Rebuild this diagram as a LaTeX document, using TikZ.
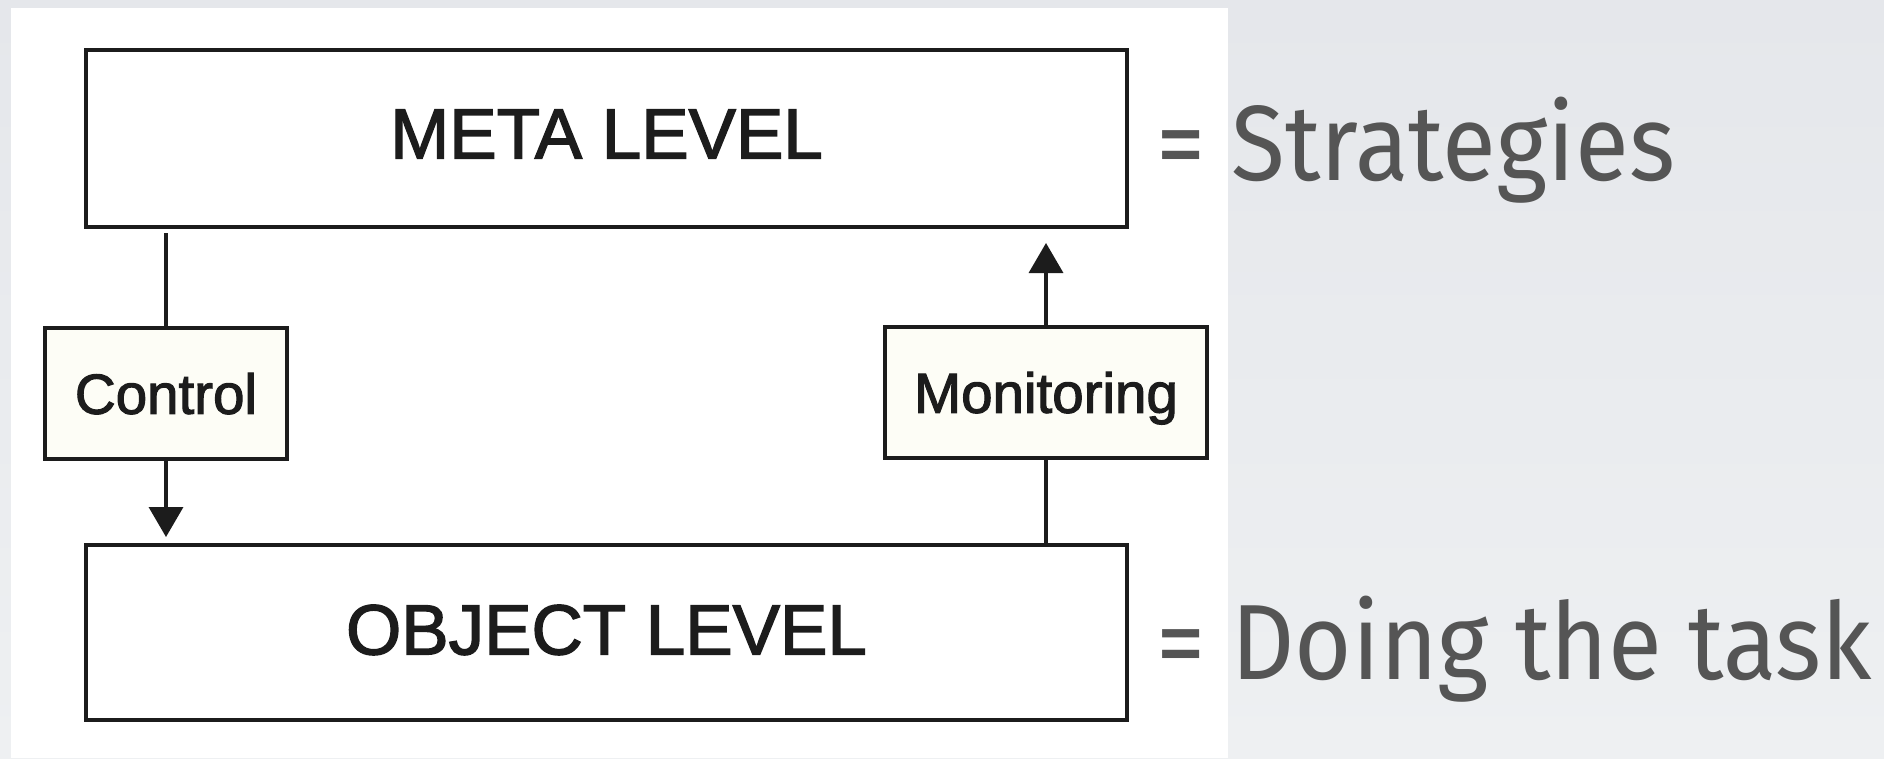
\documentclass[tikz,border=0pt]{standalone}
\usepackage{fontspec}
\setmainfont{Liberation Sans}[FakeBold=2]
\newfontfamily\slidefont{Fira Sans}[FakeStretch=0.92]
\usetikzlibrary{arrows.meta}
\definecolor{ink}{HTML}{1C1C1C}
\definecolor{boxfill}{HTML}{FDFDF6}
\definecolor{slidegray}{HTML}{555555}
\definecolor{bgtop}{HTML}{E5E7EB}
\definecolor{bgbot}{HTML}{EEF0F2}
\tikzset{
  levelbox/.style={draw=ink, line width=3.5pt, fill=white, inner sep=0pt,
    minimum width=1041pt, text height=50.8pt,
    font=\fontsize{71}{80}\selectfont, text=ink},
  tagbox/.style={draw=ink, line width=3.5pt, fill=boxfill, inner sep=0pt,
    minimum height=131pt, text height=40.5pt, text depth=0pt,
    font=\fontsize{56.5}{64}\selectfont, text=ink},
  link/.style={draw=ink, line width=3.5pt},
  flow/.style={link, -{Triangle[width=34pt,length=30pt]}},
  slidetext/.style={anchor=base west, inner sep=0pt, text=slidegray,
    font=\slidefont\fontsize{107}{120}\selectfont}
}
\begin{document}
\begin{tikzpicture}[x=1pt, y=-1pt]
  % slide background and the white figure panel
  \shade[top color=bgtop, bottom color=bgbot] (0,0) rectangle (1884,758);
  \fill[white] (11,8) rectangle (1228,758);
  \useasboundingbox (0,0) rectangle (1884,758);

  % the two levels
  \node[levelbox, minimum height=177pt, text depth=11pt] (meta) at (606.5,138.5) {META LEVEL};
  \node[levelbox, minimum height=175pt, text depth=7pt] (obj) at (606.5,632.5) {OBJECT LEVEL};

  % control and monitoring tags
  \node[tagbox, minimum width=242pt] (ctrl) at (166,393.5) {Control};
  \node[tagbox, minimum width=322pt] (mon) at (1046,392.5) {Monitoring};

  % free ends of the connectors, just off the level boxes
  \coordinate (ctrltop) at (166,233);
  \coordinate (ctrltip) at (166,537);
  \coordinate (montip) at (1046,243);

  \draw[link] (ctrltop) -- (ctrl.north);
  \draw[flow] (ctrl.south) -- (ctrltip);
  \draw[link] (mon.south |- obj.north) -- (mon.south);
  \draw[flow] (mon.north) -- (montip);

  % captions beside the levels
  \node[slidetext] (strat) at (1156,180) {= Strategies};
  \node[slidetext] (task) at (1156,679) {= Doing the task};
\end{tikzpicture}
\end{document}
